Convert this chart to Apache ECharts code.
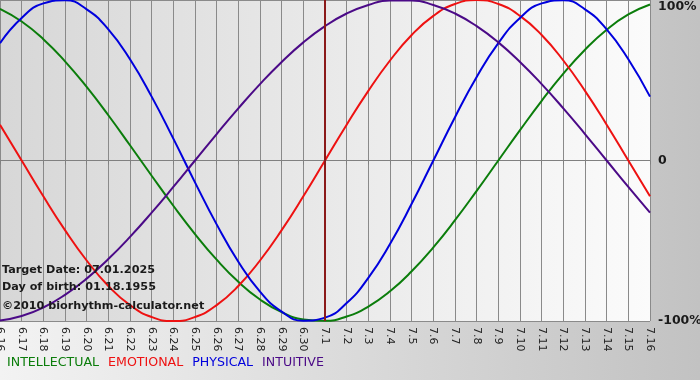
<!DOCTYPE html>
<html>
<head>
<meta charset="utf-8">
<script src="https://cdn.jsdelivr.net/npm/echarts@6/dist/echarts.min.js"></script>
<style>
  html, body { margin: 0; padding: 0; }
  #main { width: 700px; height: 380px; }
</style>
</head>
<body>
<div id="main"></div>
<script>
var days = ['6.16','6.17','6.18','6.19','6.20','6.21','6.22','6.23','6.24','6.25','6.26','6.27','6.28','6.29','6.30',
            '7.1','7.2','7.3','7.4','7.5','7.6','7.7','7.8','7.9','7.10','7.11','7.12','7.13','7.14','7.15','7.16'];

var intellectual = [94.5, 86.6, 75.6, 61.8, 45.8, 28.2, 9.5, -9.5, -28.2, -45.8, -61.8, -75.6, -86.6, -94.5, -99.0,
                    -99.9, -97.2, -91.0, -81.5, -69.0, -54.1, -37.2, -18.9, 0, 18.9, 37.2, 54.1, 69.0, 81.5, 91.0, 97.2];
var emotional = [22.3, 0, -22.3, -43.4, -62.3, -78.2, -90.1, -97.5, -100, -97.5, -90.1, -78.2, -62.3, -43.4, -22.3,
                 0, 22.3, 43.4, 62.3, 78.2, 90.1, 97.5, 100, 97.5, 90.1, 78.2, 62.3, 43.4, 22.3, 0, -22.3];
var physical = [73.1, 88.8, 97.9, 99.8, 94.2, 81.7, 63.1, 39.8, 13.6, -13.6, -39.8, -63.1, -81.7, -94.2, -99.8,
                -97.9, -88.8, -73.1, -52.0, -27.0, 0, 27.0, 52.0, 73.1, 88.8, 97.9, 99.8, 94.2, 81.7, 63.1, 39.8];
var intuitive = [-99.7, -96.9, -91.6, -83.7, -73.6, -61.4, -47.6, -32.5, -16.5, 0, 16.5, 32.5, 47.6, 61.4, 73.6,
                 83.7, 91.6, 96.9, 99.7, 99.7, 96.9, 91.6, 83.7, 73.6, 61.4, 47.6, 32.5, 16.5, 0, -16.5, -32.5];

var targetDay = '7.1';
var infoLines = ['Target Date: 07.01.2025', 'Day of birth: 01.18.1955', '\u00a92010 biorhythm-calculator.net'];

var chartDom = document.getElementById('main');
var myChart = echarts.init(chartDom);

var colors = {
    INTELLECTUAL: '#0b7d0b',
    EMOTIONAL: '#ee1111',
    PHYSICAL: '#0000dd',
    INTUITIVE: '#4b0a87'
};

function lineSeries(name, data) {
    return {
        name: name,
        type: 'line',
        data: data,
        smooth: true,
        symbol: 'none',
        lineStyle: { color: colors[name], width: 2 },
        itemStyle: { color: colors[name] },
        z: 3
    };
}

var series = [
    lineSeries('INTELLECTUAL', intellectual),
    lineSeries('EMOTIONAL', emotional),
    lineSeries('PHYSICAL', physical),
    lineSeries('INTUITIVE', intuitive)
];
series[0].markLine = {
    silent: true,
    symbol: 'none',
    label: { show: false },
    lineStyle: { color: '#8b1a1a', width: 2, type: 'solid' },
    data: [{ xAxis: targetDay }]
};

var option = {
    animation: false,
    backgroundColor: new echarts.graphic.LinearGradient(0, 0, 1, 0, [
        { offset: 0, color: '#f3f3f3' },
        { offset: 1, color: '#c2c2c2' }
    ]),
    textStyle: { fontFamily: 'DejaVu Sans' },
    grid: {
        left: 0,
        right: 50,
        top: 0,
        bottom: 59,
        outerBoundsMode: 'none',
        containLabel: false,
        show: true,
        borderWidth: 0,
        backgroundColor: new echarts.graphic.LinearGradient(0, 0, 1, 0, [
            { offset: 0, color: '#d7d7d7' },
            { offset: 1, color: '#fbfbfb' }
        ])
    },
    legend: {
        left: 2,
        top: 351,
        itemWidth: 0,
        itemHeight: 0,
        itemGap: 9,
        icon: 'none',
        selectedMode: false,
        textStyle: { fontSize: 12.6, fontFamily: 'DejaVu Sans', padding: [0, 0, 0, -5] },
        data: Object.keys(colors).map(function (k) {
            return { name: k, textStyle: { color: colors[k] } };
        })
    },
    xAxis: {
        type: 'category',
        boundaryGap: false,
        data: days,
        axisLine: { lineStyle: { color: '#808080', width: 1 } },
        axisTick: { show: true, length: 4, alignWithLabel: true, lineStyle: { color: '#808080' } },
        splitLine: { show: true, lineStyle: { color: '#8a8a8a', width: 1 } },
        axisLabel: {
            rotate: -90,
            interval: 0,
            margin: 6,
            fontSize: 11,
            color: '#222',
            fontFamily: 'DejaVu Sans'
        }
    },
    yAxis: {
        type: 'value',
        position: 'right',
        min: -100,
        max: 100,
        interval: 100,
        axisLine: { show: false },
        axisTick: { show: false },
        splitLine: { show: true, lineStyle: { color: '#8a8a8a', width: 1 } },
        axisLabel: {
            margin: 8,
            fontSize: 12.5,
            fontWeight: 'bold',
            color: '#1a1a1a',
            fontFamily: 'DejaVu Sans',
            verticalAlignMaxLabel: 'top',
            formatter: function (v) { return v === 0 ? '0' : v + '%'; }
        }
    },
    graphic: infoLines.map(function (t, i) {
        return {
            type: 'text',
            left: 2,
            top: [265, 282, 301][i],
            z: 10,
            style: {
                text: t,
                fill: '#1a1a1a',
                font: 'bold 11.2px "DejaVu Sans"'
            }
        };
    }),
    series: series
};

myChart.setOption(option);
</script>
</body>
</html>
